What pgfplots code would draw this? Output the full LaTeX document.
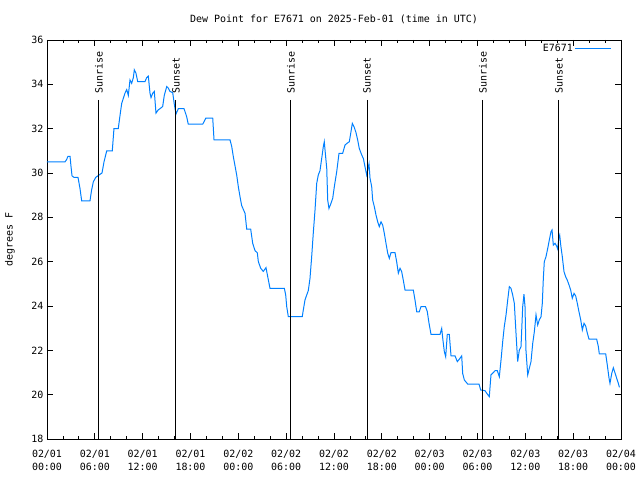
\documentclass[border=0pt]{standalone}
\usepackage{pgfplots}
\pgfplotsset{compat=1.18}
\usepackage{fontspec}
\setmainfont{DejaVu Sans Mono}
\definecolor{dpblue}{RGB}{0,128,255}
\begin{document}
\begin{tikzpicture}
\path[use as bounding box] (-47bp,-41bp) rectangle (593bp,439bp);
\begin{axis}[
  at={(0,0)}, anchor=south west,
  scale only axis, width=574bp, height=399bp,
  xmin=0, xmax=72, ymin=18, ymax=36,
  xtick={0,6,...,72},
  xticklabels={{02/01\\00:00},{02/01\\06:00},{02/01\\12:00},{02/01\\18:00},{02/02\\00:00},{02/02\\06:00},{02/02\\12:00},{02/02\\18:00},{02/03\\00:00},{02/03\\06:00},{02/03\\12:00},{02/03\\18:00},{02/04\\00:00}},
  minor x tick num=2,
  ytick={18,20,...,36},
  xticklabel style={align=center, font=\fontsize{10}{13}\selectfont, inner sep=5bp, yshift=-6bp},
  yticklabel style={font=\fontsize{10}{12}\selectfont},
  /pgf/number format/assume math mode=true,
  tick align=inside,
  major tick length=6bp, minor tick length=3bp,
  tick style={black, line width=0.8bp},
  axis line style={line width=0.8bp},
  ylabel={degrees F},
  ylabel style={font=\fontsize{10}{12}\selectfont, at={(-37bp,0.5)}, anchor=center},
  title={Dew Point for E7671 on 2025-Feb-01 (time in UTC)},
  title style={font=\fontsize{10}{12}\selectfont, at={(0.5,1)}, anchor=south, yshift=7bp},
  legend style={at={(1,1)}, anchor=north east, draw=none, fill=none, font=\fontsize{10}{12}\selectfont, xshift=-6bp, yshift=0bp},
  legend plot pos=right,
  legend image code/.code={\path (0bp,0bp) -- (36bp,0bp); \draw[#1] (8bp,0bp) -- (36bp,0bp);},
]
\addplot[dpblue, line width=1bp] coordinates {
(0.0,30.5) (2.26,30.5) (2.45,30.6) (2.63,30.75) (2.89,30.75) (3.01,30.3) (3.14,29.87) (3.39,29.8) (3.89,29.8) (4.14,29.3) (4.35,28.74) (5.39,28.74) (5.58,29.2) (5.81,29.6) (6.11,29.8) (6.65,29.94) (6.9,30.0) (7.15,30.5) (7.49,31.0) (8.19,31.0) (8.4,32.0) (8.94,32.0) (9.16,32.6) (9.37,33.14) (9.78,33.6) (10.0,33.76) (10.2,33.5) (10.41,34.2) (10.62,34.05) (10.83,34.3) (10.95,34.65) (11.16,34.5) (11.38,34.12) (12.29,34.12) (12.5,34.3) (12.71,34.37) (12.92,33.6) (13.05,33.4) (13.26,33.6) (13.46,33.68) (13.67,32.7) (13.96,32.85) (14.17,32.9) (14.51,33.0) (14.71,33.5) (15.02,33.9) (15.22,33.83) (15.43,33.68) (15.77,33.62) (15.97,33.1) (16.18,32.66) (16.47,32.9) (17.19,32.9) (17.52,32.54) (17.72,32.2) (19.53,32.2) (19.91,32.47) (20.79,32.47) (20.95,31.49) (22.96,31.49) (23.17,31.2) (23.37,30.74) (23.8,29.9) (24.0,29.38) (24.21,28.93) (24.42,28.53) (24.84,28.18) (25.05,27.47) (25.55,27.47) (25.8,26.83) (26.09,26.5) (26.38,26.4) (26.51,26.0) (26.81,25.7) (27.13,25.56) (27.47,25.73) (27.63,25.43) (27.97,24.8) (29.77,24.8) (29.94,24.5) (30.07,23.97) (30.27,23.52) (32.02,23.52) (32.15,23.82) (32.36,24.27) (32.58,24.5) (32.78,24.7) (32.99,25.25) (33.2,26.22) (33.4,27.28) (33.62,28.33) (33.83,29.53) (34.03,29.91) (34.24,30.1) (34.46,30.66) (34.66,31.19) (34.78,31.41) (34.91,30.9) (35.09,30.21) (35.21,28.78) (35.37,28.4) (35.59,28.6) (35.84,28.86) (36.04,29.38) (36.34,30.06) (36.63,30.89) (37.09,30.89) (37.38,31.26) (37.67,31.35) (37.92,31.41) (38.13,31.86) (38.3,32.24) (38.51,32.09) (38.76,31.82) (38.97,31.49) (39.17,31.11) (39.48,30.81) (39.68,30.66) (39.89,30.28) (40.1,29.91) (40.27,30.21) (40.39,30.41) (40.52,29.76) (40.73,29.38) (40.85,28.78) (41.06,28.48) (41.27,28.1) (41.48,27.8) (41.68,27.58) (41.9,27.8) (42.11,27.65) (42.31,27.28) (42.52,26.83) (42.74,26.38) (42.94,26.15) (43.15,26.41) (43.65,26.41) (43.86,26.0) (44.07,25.48) (44.28,25.7) (44.49,25.55) (44.69,25.17) (44.91,24.72) (45.95,24.72) (46.16,24.27) (46.38,23.74) (46.7,23.74) (46.91,23.97) (47.48,23.97) (47.7,23.75) (47.92,23.22) (48.17,22.72) (49.3,22.72) (49.51,22.99) (49.64,22.54) (49.84,21.94) (50.01,21.71) (50.21,22.72) (50.46,22.72) (50.68,21.75) (51.18,21.75) (51.47,21.49) (51.72,21.6) (52.02,21.75) (52.14,20.96) (52.35,20.66) (52.77,20.48) (54.19,20.48) (54.4,20.21) (54.94,20.18) (55.16,20.06) (55.48,19.91) (55.69,20.89) (56.2,21.08) (56.49,21.08) (56.74,20.81) (56.95,21.56) (57.16,22.39) (57.36,23.07) (57.58,23.6) (57.79,24.27) (57.99,24.87) (58.2,24.8) (58.41,24.5) (58.62,24.12) (58.83,22.77) (59.04,21.49) (59.24,22.0) (59.46,22.17) (59.67,23.97) (59.83,24.53) (59.96,23.97) (60.08,22.0) (60.3,20.89) (60.5,21.19) (60.71,21.49) (60.93,22.32) (61.13,22.84) (61.34,23.6) (61.55,23.14) (61.75,23.37) (61.97,23.52) (62.13,24.12) (62.26,25.25) (62.38,26.0) (62.59,26.22) (62.81,26.6) (63.01,26.98) (63.22,27.35) (63.35,27.43) (63.51,26.75) (63.72,26.83) (63.93,26.7) (64.06,26.57) (64.19,27.05) (64.31,27.2) (64.44,26.75) (64.64,26.22) (64.85,25.55) (65.06,25.32) (65.26,25.17) (65.48,24.95) (65.69,24.72) (65.89,24.35) (66.11,24.57) (66.32,24.45) (66.52,24.12) (66.73,23.74) (66.95,23.37) (67.15,22.92) (67.36,23.22) (67.57,23.1) (67.78,22.77) (67.99,22.5) (68.95,22.5) (69.16,22.17) (69.28,21.84) (70.08,21.84) (70.28,21.34) (70.5,20.74) (70.62,20.51) (70.84,20.96) (71.04,21.21) (71.25,20.98) (71.46,20.74) (71.67,20.51) (71.8,20.33)
};
\addlegendentry{E7671}
\foreach \t/\lab in {6.52/Sunrise,16.18/Sunset,30.6/Sunrise,40.14/Sunset,54.69/Sunrise,64.22/Sunset}{
  \edef\temp{\noexpand\draw[black, line width=1bp] (axis cs:\t,33.3) -- (axis cs:\t,18);
  \noexpand\node[rotate=90, anchor=west, inner sep=0pt, xshift=-1.5bp, font=\noexpand\fontsize{10}{12}\noexpand\selectfont] at (axis cs:\t,33.65) {\lab};}
  \temp
}
\end{axis}
\end{tikzpicture}
\end{document}
